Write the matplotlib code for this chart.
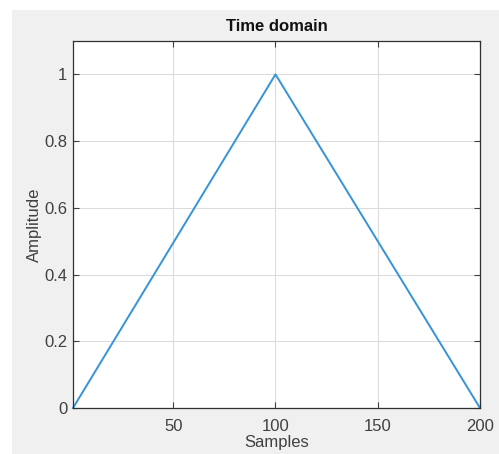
import numpy as np
import matplotlib
matplotlib.use('Agg')
import matplotlib.pyplot as plt
from matplotlib.patches import Rectangle

# triangle corners (sample index, amplitude)
corner_x = [1, 100, 200]
corner_y = [0, 1, 0]
xticks = [50, 100, 150, 200]
yticks = [0, 0.2, 0.4, 0.6, 0.8, 1]

plt.rcParams['font.family'] = ['Liberation Sans', 'DejaVu Sans']

fig = plt.figure(figsize=(4.99, 4.54), dpi=100)
fig.patch.set_facecolor('white')
fig.patches.append(Rectangle((12 / 499, 0), 1, 1 - 10 / 454, transform=fig.transFigure,
                             facecolor='#f0f0f0', edgecolor='none', zorder=-10))

ax = fig.add_axes([73 / 499, 46 / 454, (480 - 73) / 499, (408 - 41) / 454])
ax.plot(corner_x, corner_y, color='#3593d6', lw=1.4, clip_on=False)
ax.set_xlim(1, 200)
ax.set_ylim(0, 1.1)
ax.set_xticks(xticks)
ax.set_yticks(yticks)
ax.set_yticklabels(['0', '0.2', '0.4', '0.6', '0.8', '1'])
ax.grid(True, color='#dcdcdc', lw=0.8)
ax.set_axisbelow(True)
ax.tick_params(direction='in', length=4, top=True, right=True, labelsize=12,
               colors='#404040', width=0.8, pad=4)
ax.tick_params(axis='x', pad=8)
for s in ax.spines.values():
    s.set_color('#303030')
    s.set_linewidth(0.9)
ax.set_title('Time domain', fontsize=12, fontweight='bold', color='#111111', pad=7)
ax.set_xlabel('Samples', fontsize=12, color='#404040', labelpad=1)
ax.set_ylabel('Amplitude', fontsize=12, color='#404040', labelpad=2)

fig.savefig('out.png', dpi=100)
